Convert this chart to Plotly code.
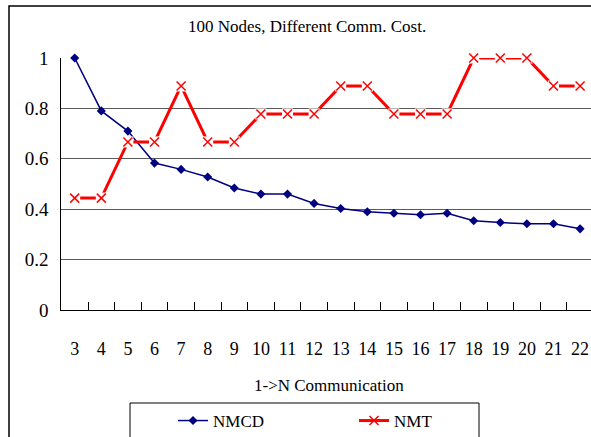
import plotly.graph_objects as go

# Number of receivers N in a 1->N communication
categories = [str(n) for n in range(3, 23)]

# Normalised metrics per N
nmcd = [1.0, 0.79, 0.71, 0.583, 0.558, 0.528, 0.484, 0.46, 0.46, 0.423,
        0.403, 0.39, 0.384, 0.378, 0.384, 0.354, 0.347, 0.342, 0.342, 0.322]
nmt = [0.444, 0.444, 0.667, 0.667, 0.889, 0.667, 0.667, 0.778, 0.778, 0.778,
       0.889, 0.889, 0.778, 0.778, 0.778, 1.0, 1.0, 1.0, 0.889, 0.889]

y_ticks = [0, 0.2, 0.4, 0.6, 0.8, 1]
y_tick_labels = ["0", "0.2", "0.4", "0.6", "0.8", "1"]

W, H = 591, 437
FONT = "Liberation Serif"
NAVY = "#000080"
RED = "#FF0000"

fig = go.Figure()

fig.add_trace(go.Scatter(
    x=categories, y=nmcd, name="NMCD", mode="lines+markers",
    line=dict(color=NAVY, width=1.5),
    marker=dict(symbol="diamond", size=7, color=NAVY),
    cliponaxis=False,
))

# NMT: thick red line, white patches behind each marker, then the x markers
fig.add_trace(go.Scatter(
    x=categories, y=nmt, name="NMT", mode="lines+markers",
    line=dict(color=RED, width=3),
    marker=dict(symbol="x-thin", size=9, line=dict(color=RED, width=1.5)),
    cliponaxis=False,
))
fig.add_trace(go.Scatter(
    x=categories, y=nmt, mode="markers", showlegend=False, hoverinfo="skip",
    marker=dict(symbol="square", size=11, color="white", line=dict(width=0)),
    cliponaxis=False,
))
fig.add_trace(go.Scatter(
    x=categories, y=nmt, mode="markers", showlegend=False, hoverinfo="skip",
    marker=dict(symbol="x-thin", size=9, line=dict(color=RED, width=1.5)),
    cliponaxis=False,
))

x_left, y_top, y_bottom = 61.4, 58, 310

fig.update_layout(
    width=W, height=H,
    margin=dict(l=0, r=0, t=0, b=0, autoexpand=False),
    paper_bgcolor="white", plot_bgcolor="white",
    font=dict(family=FONT, size=17, color="black"),
    showlegend=True,
    legend=dict(
        orientation="h", xref="container", yref="container",
        x=173 / W, xanchor="left",
        y=1 - 421 / H, yanchor="middle",
        bgcolor="rgba(0,0,0,0)", borderwidth=0,
        entrywidth=136, entrywidthmode="pixels",
        font=dict(family=FONT, size=17),
    ),
    xaxis=dict(
        domain=[x_left / W, 1],
        type="category",
        range=[-0.5, 19.41],
        automargin=False,
        tickson="boundaries",
        ticks="inside", ticklen=8, tickcolor="black", tickwidth=1,
        showline=True, linecolor="black", linewidth=1.2,
        showgrid=False, zeroline=False,
        tickangle=0,
        tickfont=dict(family=FONT, size=18),
        ticklabelstandoff=22,
    ),
    yaxis=dict(
        domain=[1 - y_bottom / H, 1 - y_top / H],
        range=[0, 1],
        automargin=False,
        tickvals=y_ticks, ticktext=y_tick_labels,
        showline=True, linecolor="black", linewidth=1.2,
        showgrid=True, gridcolor="#5a5a5a", gridwidth=1,
        zeroline=False, ticks="",
        tickfont=dict(family=FONT, size=19),
        ticklabelstandoff=8,
    ),
    annotations=[
        dict(text="100 Nodes, Different Comm. Cost.", xref="paper", yref="paper",
             x=307 / W, y=1 - 26 / H, xanchor="center", yanchor="middle",
             showarrow=False, font=dict(family=FONT, size=17)),
        dict(text="1-&gt;N Communication", xref="paper", yref="paper",
             x=329 / W, y=1 - 385 / H, xanchor="center", yanchor="middle",
             showarrow=False, font=dict(family=FONT, size=17)),
    ],
    shapes=[
        # chart frame
        dict(type="rect", xref="paper", yref="paper",
             x0=9 / W, x1=1.02, y0=-0.02, y1=1 - 6 / H,
             line=dict(color="black", width=1.5), fillcolor="rgba(0,0,0,0)",
             layer="below"),
        # legend frame
        dict(type="rect", xref="paper", yref="paper",
             x0=130 / W, x1=479 / W, y0=-0.02, y1=1 - 403 / H,
             line=dict(color="black", width=1), fillcolor="rgba(0,0,0,0)",
             layer="below"),
    ],
)

fig.write_html("out.html")
